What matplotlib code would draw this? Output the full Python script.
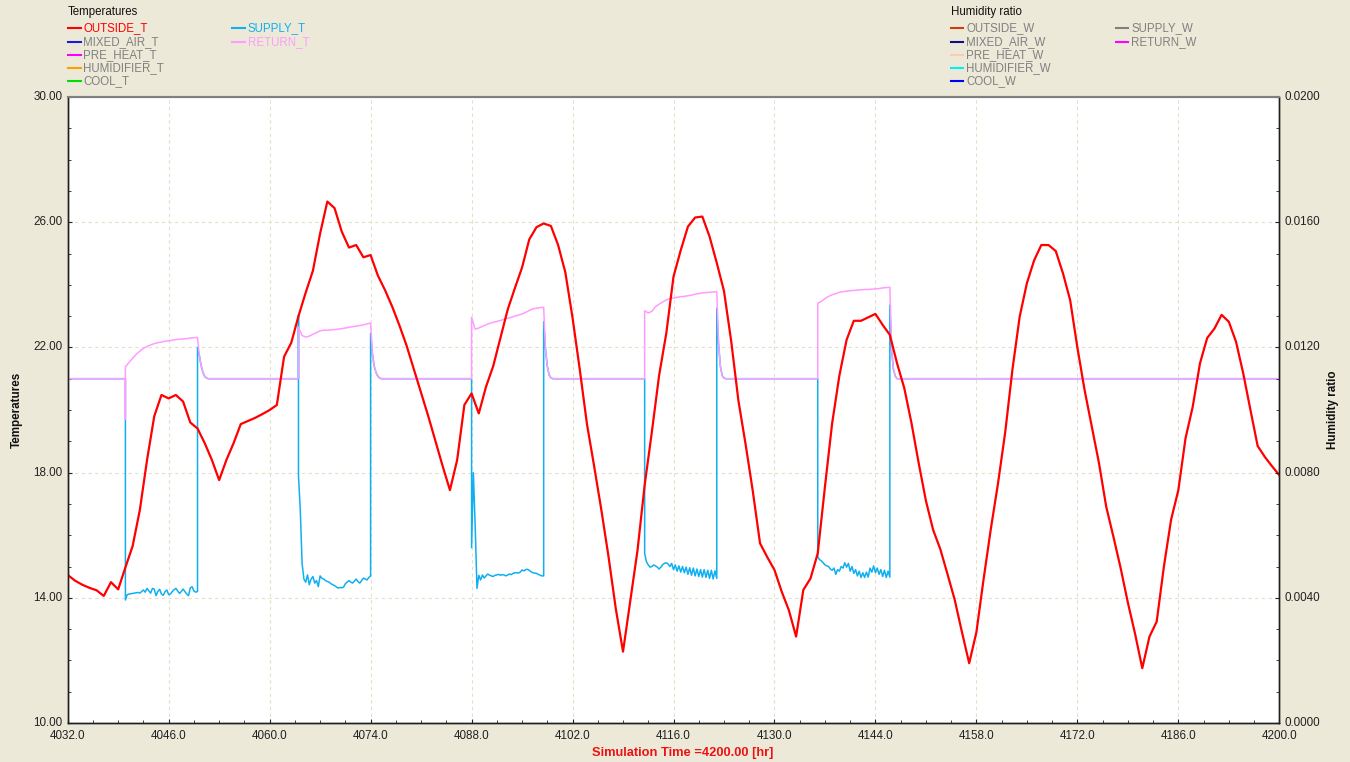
import matplotlib
matplotlib.use('Agg')

import matplotlib.pyplot as plt
from matplotlib.lines import Line2D
from matplotlib.ticker import MultipleLocator, FormatStrFormatter
import numpy as np

plt.rcParams['font.family'] = ['Liberation Sans', 'DejaVu Sans']

# ---- data -----------------------------------------------------------------
T_START = 4032
T_END = 4200

# outside air temperature, one value per hour from 4032 h
OUTSIDE_T = [
    14.73, 14.55, 14.42, 14.32, 14.24, 14.06, 14.50, 14.27, 14.97, 15.65,
    16.80, 18.40, 19.80, 20.48, 20.37, 20.48, 20.27, 19.60, 19.41, 18.94,
    18.40, 17.76, 18.40, 18.94, 19.55, 19.65, 19.75, 19.87, 20.00, 20.16,
    21.70, 22.15, 23.00, 23.75, 24.45, 25.64, 26.66, 26.45, 25.70, 25.19,
    25.27, 24.88, 24.95, 24.30, 23.83, 23.30, 22.70, 22.05, 21.30, 20.55,
    19.80, 19.00, 18.20, 17.44, 18.40, 20.16, 20.53, 19.89, 20.74, 21.40,
    22.30, 23.20, 23.89, 24.55, 25.45, 25.84, 25.96, 25.88, 25.27, 24.40,
    22.95, 21.30, 19.55, 18.20, 16.80, 15.30, 13.65, 12.28, 13.90, 15.50,
    17.60, 19.30, 21.10, 22.45, 24.26, 25.10, 25.86, 26.15, 26.18, 25.54,
    24.70, 23.80, 22.20, 20.30, 18.90, 17.40, 15.74, 15.30, 14.89, 14.20,
    13.60, 12.76, 14.25, 14.62, 15.42, 17.55, 19.58, 21.10, 22.24, 22.85,
    22.85, 22.96, 23.07, 22.72, 22.40, 21.49, 20.70, 19.58, 18.30, 17.10,
    16.17, 15.55, 14.75, 13.93, 12.90, 11.91, 12.90, 14.60, 16.20, 17.66,
    19.30, 21.30, 22.98, 24.05, 24.78, 25.27, 25.27, 25.08, 24.37, 23.51,
    22.00, 20.64, 19.47, 18.30, 16.91, 15.95, 14.95, 13.85, 12.85, 11.75,
    12.76, 13.24, 15.00, 16.50, 17.44, 19.10, 20.11, 21.49, 22.30, 22.60,
    23.04, 22.82, 22.18, 21.17, 20.00, 18.85, 18.50, 18.20, 17.92,
]

# air handler runs 10 h from these hours; idle return/supply sit at 21.0
ON_START = [4040, 4064, 4088, 4112, 4136]
ON_HOURS = 10
OFF_LEVEL = 21.0
RETURN_T_FIRST = 20.0

# supply temperature while running, every 15 min
SUPPLY_T_ON = [
    [13.93, 14.10, 14.12, 14.13, 14.14, 14.15, 14.16, 14.17, 14.15, 14.20,
     14.25, 14.18, 14.30, 14.22, 14.15, 14.30, 14.28, 14.07, 14.20, 14.27,
     14.12, 14.08, 14.20, 14.25, 14.10, 14.12, 14.20, 14.26, 14.30, 14.22,
     14.14, 14.20, 14.28, 14.20, 14.12, 14.07, 14.32, 14.35, 14.22, 14.18,
     14.20],
    [17.90, 16.80, 15.10, 14.60, 14.50, 14.73, 14.42, 14.60, 14.68, 14.47,
     14.55, 14.36, 14.70, 14.62, 14.60, 14.55, 14.52, 14.50, 14.45, 14.42,
     14.39, 14.35, 14.31, 14.33, 14.32, 14.34, 14.45, 14.50, 14.55, 14.50,
     14.47, 14.53, 14.60, 14.52, 14.47, 14.55, 14.63, 14.60, 14.57, 14.65,
     14.70],
    [15.60, 18.00, 16.30, 14.30, 14.72, 14.57, 14.73, 14.63, 14.70, 14.76,
     14.72, 14.70, 14.68, 14.72, 14.73, 14.75, 14.72, 14.74, 14.73, 14.70,
     14.73, 14.76, 14.74, 14.78, 14.80, 14.80, 14.79, 14.82, 14.89, 14.86,
     14.90, 14.91, 14.88, 14.83, 14.80, 14.79, 14.78, 14.75, 14.72, 14.70,
     14.70],
    [15.42, 15.15, 15.05, 14.98, 15.00, 15.05, 15.02, 14.98, 14.92, 14.98,
     15.06, 15.10, 15.12, 15.08, 15.00, 15.10, 14.90, 15.05, 14.85, 15.02,
     14.82, 15.00, 14.80, 14.98, 14.75, 14.96, 14.72, 14.95, 14.70, 14.92,
     14.68, 14.90, 14.66, 14.90, 14.65, 14.88, 14.62, 14.88, 14.60, 14.86,
     14.62],
    [15.31, 15.22, 15.18, 15.12, 15.05, 15.02, 15.00, 14.92, 14.88, 14.95,
     14.75, 14.90, 14.85, 15.00, 14.95, 15.12, 14.98, 15.10, 14.85, 15.00,
     14.78, 14.90, 14.70, 14.85, 14.65, 14.80, 14.65, 14.82, 14.66, 14.95,
     14.82, 15.02, 14.80, 14.95, 14.75, 14.90, 14.68, 14.88, 14.65, 14.85,
     14.66],
]
SUPPLY_T_ON_SPIKE = [None, 23.04, None, None, None]
SUPPLY_T_OFF_PEAK = [22.00, 22.45, 22.82, 23.25, 23.35]

# return temperature while running, every 30 min
RETURN_T_ON = [
    [21.38, 21.52, 21.65, 21.78, 21.88, 21.97, 22.03, 22.08, 22.12, 22.15,
     22.17, 22.20, 22.21, 22.23, 22.25, 22.26, 22.27, 22.28, 22.30, 22.31, 22.32],
    [22.65, 22.38, 22.33, 22.36, 22.42, 22.47, 22.53, 22.55, 22.55, 22.56,
     22.57, 22.58, 22.60, 22.62, 22.64, 22.66, 22.68, 22.70, 22.72, 22.75, 22.78],
    [22.96, 22.58, 22.62, 22.67, 22.72, 22.77, 22.80, 22.83, 22.86, 22.90,
     22.93, 22.96, 23.00, 23.03, 23.07, 23.12, 23.18, 23.23, 23.25, 23.27, 23.28],
    [23.17, 23.10, 23.15, 23.30, 23.38, 23.45, 23.52, 23.56, 23.58, 23.60,
     23.62, 23.63, 23.65, 23.67, 23.70, 23.72, 23.74, 23.75, 23.76, 23.77, 23.78],
    [23.41, 23.47, 23.56, 23.63, 23.68, 23.72, 23.76, 23.78, 23.80, 23.81,
     23.82, 23.83, 23.84, 23.85, 23.85, 23.86, 23.87, 23.88, 23.90, 23.91, 23.92],
]
RETURN_T_ON_DIP = [19.7, None, None, None, None]
# return temperature after switch-off, every 15 min
RETURN_T_DECAY = [
    [21.75, 21.42, 21.20, 21.07, 21.02, 21.00],
    [21.80, 21.40, 21.20, 21.08, 21.02, 21.00],
    [21.95, 21.40, 21.12, 21.03, 21.00],
    [22.10, 21.40, 21.10, 21.02, 21.00],
    [21.90, 21.30, 21.08, 21.00],
]

TEMP_NAMES = ['OUTSIDE_T', 'MIXED_AIR_T', 'PRE_HEAT_T', 'HUMIDIFIER_T', 'COOL_T',
              'SUPPLY_T', 'RETURN_T']
TEMP_LINE_COLORS = ['#ff0000', '#1c1cd8', '#ff00ff', '#ffa000', '#00e000',
                    '#10b0f0', '#ff9cff']
TEMP_TEXT_COLORS = ['#ff0000', '#808080', '#808080', '#808080', '#808080',
                    '#10b0f0', '#ff9cff']
HUM_NAMES = ['OUTSIDE_W', 'MIXED_AIR_W', 'PRE_HEAT_W', 'HUMIDIFIER_W', 'COOL_W',
             'SUPPLY_W', 'RETURN_W']
HUM_LINE_COLORS = ['#c84010', '#101080', '#ffc8b0', '#00f0f0', '#0000ff',
                   '#808080', '#ff00ff']

X_TICKS = [4032, 4046, 4060, 4074, 4088, 4102, 4116, 4130, 4144, 4158, 4172, 4186, 4200]
Y_TICKS = [10, 14, 18, 22, 26, 30]
W_TICKS = [0.0, 0.004, 0.008, 0.012, 0.016, 0.020]

# ---- build the sub-hourly supply / return traces ---------------------------
def build_return():
    t, v = [T_START, T_START], [RETURN_T_FIRST, OFF_LEVEL]
    for i, t0 in enumerate(ON_START):
        t.append(t0); v.append(OFF_LEVEL)
        if RETURN_T_ON_DIP[i] is not None:
            t.append(t0); v.append(RETURN_T_ON_DIP[i])
        vals = RETURN_T_ON[i]
        t += [t0 + 0.5 * k for k in range(len(vals))]; v += vals
        toff = t0 + ON_HOURS
        dec = RETURN_T_DECAY[i]
        t += [toff + 0.25 * (k + 1) for k in range(len(dec))]; v += dec
    t.append(T_END); v.append(OFF_LEVEL)
    return t, v


def build_supply():
    t, v = [T_START], [OFF_LEVEL]
    for i, t0 in enumerate(ON_START):
        t.append(t0); v.append(OFF_LEVEL)
        if SUPPLY_T_ON_SPIKE[i] is not None:
            t.append(t0); v.append(SUPPLY_T_ON_SPIKE[i])
        vals = SUPPLY_T_ON[i]
        t += [t0 + 0.25 * k for k in range(len(vals))]; v += vals
        toff = t0 + ON_HOURS
        t.append(toff); v.append(SUPPLY_T_OFF_PEAK[i])
        dec = RETURN_T_DECAY[i]
        t += [toff + 0.25 * (k + 1) for k in range(len(dec))]; v += dec
    t.append(T_END); v.append(OFF_LEVEL)
    return t, v


# ---- figure ----------------------------------------------------------------
W_PX, H_PX = 1350, 762
BG = '#ece9d8'
fig = plt.figure(figsize=(W_PX / 100, H_PX / 100), dpi=100, facecolor=BG)

def fx(x):
    return x / W_PX

def fy(y):
    return 1 - y / H_PX

left, right, top, bottom = 67.7, 1279.3, 97, 723
ax = fig.add_axes([fx(left), fy(bottom), fx(right) - fx(left), fy(top) - fy(bottom)])
ax.set_facecolor('white')

hours = T_START + np.arange(len(OUTSIDE_T))
st, sv = build_supply()
rt, rv = build_return()
ax.plot(st, sv, color=TEMP_LINE_COLORS[5], lw=1.1, zorder=2)
ax.plot(rt, rv, color=TEMP_LINE_COLORS[6], lw=1.1, zorder=3)
ax.plot(hours, OUTSIDE_T, color=TEMP_LINE_COLORS[0], lw=1.6, zorder=4)

ax.set_xlim(T_START, T_END)
ax.set_ylim(10, 30)
ax.set_xticks(X_TICKS)
ax.set_yticks(Y_TICKS)
ax.xaxis.set_minor_locator(MultipleLocator(3.5))
ax.yaxis.set_minor_locator(MultipleLocator(1))
ax.xaxis.set_major_formatter(FormatStrFormatter('%.1f'))
ax.yaxis.set_major_formatter(FormatStrFormatter('%.2f'))
ax.grid(True, which='major', color='#e4e0c8', lw=0.8, linestyle=(0, (3, 3)), zorder=0)
ax.set_axisbelow(True)

tick_col = '#222222'
ax.tick_params(which='both', direction='in', colors=tick_col, labelsize=8.4)
ax.tick_params(which='major', length=3)
ax.tick_params(which='minor', length=2)
ax.tick_params(axis='y', pad=4)
ax.tick_params(axis='x', pad=5)

ax2 = ax.twinx()
ax2.set_ylim(0, 0.02)
ax2.set_yticks(W_TICKS)
ax2.yaxis.set_minor_locator(MultipleLocator(0.001))
ax2.yaxis.set_major_formatter(FormatStrFormatter('%.4f'))
ax2.tick_params(which='both', direction='in', colors=tick_col, labelsize=8.4, pad=4)
ax2.tick_params(which='major', length=3)
ax2.tick_params(which='minor', length=2)

for lab in ax.get_yticklabels() + ax2.get_yticklabels():
    lab.set_verticalalignment('center')

for a in (ax, ax2):
    for side in ('left', 'right', 'bottom'):
        a.spines[side].set_color('#202020')
        a.spines[side].set_linewidth(1.0)
    a.spines['top'].set_color('#808080')
    a.spines['top'].set_linewidth(1.5)

# axis titles
fig.text(fx(17), fy(410), 'Temperatures', rotation=90, ha='center', va='center',
         fontsize=8.4, fontweight='bold', color='#111111')
fig.text(fx(1333), fy(410), 'Humidity ratio', rotation=90, ha='center', va='center',
         fontsize=8.4, fontweight='bold', color='#111111')
fig.text(fx(683), fy(753), 'Simulation Time =4200.00 [hr]', ha='center', va='center',
         fontsize=9.3, fontweight='bold', color='#ee1111')

# legends
ROW_Y = [28.3, 41.7, 54.7, 68.3, 81.0, 28.3, 41.7]

def legend_block(title, x_col, names, line_cols, text_cols):
    fig.text(fx(x_col[0]), fy(12.3), title, ha='left', va='center',
             fontsize=8.3, color='#111111')
    for i, name in enumerate(names):
        col = 0 if i < 5 else 1
        x0 = x_col[col]
        y = ROW_Y[i]
        fig.add_artist(Line2D([fx(x0), fx(x0 + 12.5)], [fy(y), fy(y)],
                              transform=fig.transFigure, color=line_cols[i], lw=1.5))
        fig.text(fx(x0 + 15.5), fy(y), name, ha='left', va='center',
                 fontsize=8.3, color=text_cols[i])

legend_block('Temperatures', [68.0, 232.3], TEMP_NAMES, TEMP_LINE_COLORS, TEMP_TEXT_COLORS)
legend_block('Humidity ratio', [950.7, 1115.7], HUM_NAMES, HUM_LINE_COLORS,
             ['#808080'] * len(HUM_NAMES))

fig.savefig('out.png', dpi=100, facecolor=BG)
